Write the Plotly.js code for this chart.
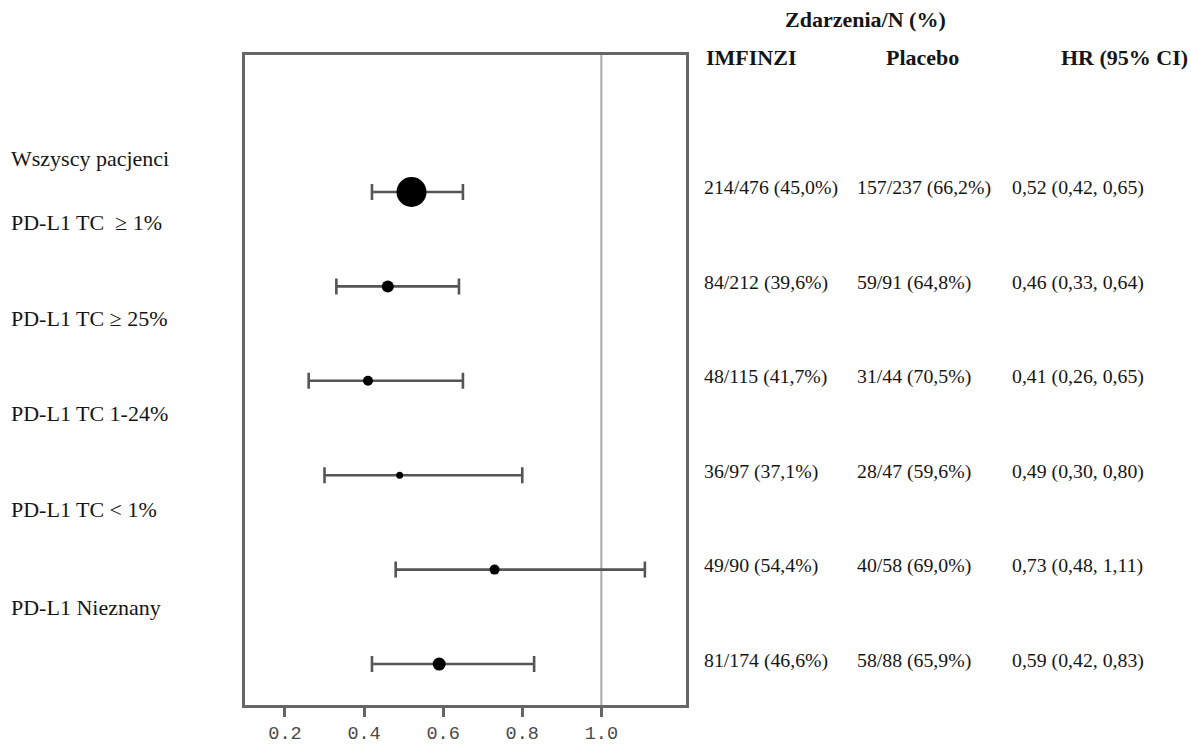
<!DOCTYPE html>
<html>
<head>
<meta charset="utf-8">
<script src="https://cdn.plot.ly/plotly-3.0.1.min.js"></script>
<style>html,body{margin:0;padding:0;background:#fff;}#chart{width:1191px;height:745px;}</style>
</head>
<body>
<div id="chart"></div>
<script>
// ---- data ----
const subgroups = ["Wszyscy pacjenci", "PD-L1 TC  \u2265 1%", "PD-L1 TC \u2265 25%", "PD-L1 TC 1-24%", "PD-L1 TC < 1%", "PD-L1 Nieznany"];
const hr = [0.52, 0.46, 0.41, 0.49, 0.73, 0.59];
const ciLow = [0.42, 0.33, 0.26, 0.30, 0.48, 0.42];
const ciHigh = [0.65, 0.64, 0.65, 0.80, 1.11, 0.83];
const imfEvents = [214, 84, 48, 36, 49, 81];
const imfN = [476, 212, 115, 97, 90, 174];
const imfPct = ["45,0", "39,6", "41,7", "37,1", "54,4", "46,6"];
const plaEvents = [157, 59, 31, 28, 40, 58];
const plaN = [237, 91, 44, 47, 58, 88];
const plaPct = ["66,2", "64,8", "70,5", "59,6", "69,0", "65,9"];
const tickVals = [0.2, 0.4, 0.6, 0.8, 1.0];
const tickText = ["0.2", "0.4", "0.6", "0.8", "1.0"];

// ---- style ----
const markerSizes = [30, 12, 10, 7, 10, 13];
const W = 1191, H = 745;
const M = {l: 245, r: 505, t: 55, b: 40};
const plotW = W - M.l - M.r, plotH = H - M.t - M.b;
const px2paperX = px => (px - M.l) / plotW;
const px2paperY = py => (H - M.b - py) / plotH;
const leftLabelPx = [158, 222, 318, 413, 510, 607];
const serif = "Liberation Serif, Times New Roman, serif";
const txtColor = '#151515';

const rows = subgroups.map((_, i) => i);
const fmt = v => v.toFixed(2).replace('.', ',');

const trace = {
  type: 'scatter', mode: 'markers',
  x: hr, y: rows,
  marker: {color: '#000', size: markerSizes, opacity: 1, line: {width: 0}},
  error_x: {
    type: 'data', symmetric: false,
    array: hr.map((v, i) => ciHigh[i] - v),
    arrayminus: hr.map((v, i) => v - ciLow[i]),
    color: '#555', thickness: 2.6, width: 8
  },
  hoverinfo: 'skip', showlegend: false
};

const annotations = [];
const colFont = {family: serif, size: 19.8, color: txtColor};
subgroups.forEach((s, i) => {
  annotations.push({xref: 'paper', yref: 'paper', x: px2paperX(9), y: px2paperY(leftLabelPx[i]),
    xanchor: 'left', yanchor: 'middle', text: s, showarrow: false,
    font: {family: serif, size: 22, color: txtColor}});
  annotations.push({xref: 'paper', yref: 'y', x: px2paperX(702), y: i, yshift: 4,
    xanchor: 'left', yanchor: 'middle', text: imfEvents[i] + '/' + imfN[i] + ' (' + imfPct[i] + '%)', showarrow: false,
    font: colFont});
  annotations.push({xref: 'paper', yref: 'y', x: px2paperX(855), y: i, yshift: 4,
    xanchor: 'left', yanchor: 'middle', text: plaEvents[i] + '/' + plaN[i] + ' (' + plaPct[i] + '%)', showarrow: false,
    font: colFont});
  annotations.push({xref: 'paper', yref: 'y', x: px2paperX(1010), y: i, yshift: 4,
    xanchor: 'left', yanchor: 'middle', text: fmt(hr[i]) + ' (' + fmt(ciLow[i]) + ', ' + fmt(ciHigh[i]) + ')', showarrow: false,
    font: colFont});
});
const headFont = {family: serif, size: 22, color: txtColor};
annotations.push({xref: 'paper', yref: 'paper', x: px2paperX(865), y: px2paperY(20), xanchor: 'center', yanchor: 'middle',
  text: '<b>Zdarzenia/N (%)</b>', showarrow: false, font: headFont});
annotations.push({xref: 'paper', yref: 'paper', x: px2paperX(704), y: px2paperY(57), xanchor: 'left', yanchor: 'middle',
  text: '<b>IMFINZI</b>', showarrow: false, font: headFont});
annotations.push({xref: 'paper', yref: 'paper', x: px2paperX(922), y: px2paperY(57), xanchor: 'center', yanchor: 'middle',
  text: '<b>Placebo</b>', showarrow: false, font: headFont});
annotations.push({xref: 'paper', yref: 'paper', x: px2paperX(1059), y: px2paperY(57), xanchor: 'left', yanchor: 'middle',
  text: '<b>HR (95% CI)</b>', showarrow: false, font: headFont});

const layout = {
  width: W, height: H,
  margin: M,
  paper_bgcolor: '#fff', plot_bgcolor: '#fff',
  xaxis: {
    range: [0.099, 1.214], tickvals: tickVals, ticktext: tickText,
    ticks: 'outside', ticklen: 9, tickwidth: 3, tickcolor: '#666',
    tickfont: {family: 'Liberation Mono, Courier New, monospace', size: 18.5, color: '#4a4a4a'},
    showgrid: false, zeroline: false,
    showline: true, mirror: true, linecolor: '#666', linewidth: 3
  },
  yaxis: {
    range: [5.434, -1.451], showticklabels: false, ticks: '',
    showgrid: false, zeroline: false,
    showline: true, mirror: true, linecolor: '#666', linewidth: 3
  },
  shapes: [{type: 'line', xref: 'x', yref: 'paper', x0: 1.0, x1: 1.0, y0: 0, y1: 1,
    line: {color: '#aaa', width: 2}, layer: 'below'}],
  annotations: annotations
};

Plotly.newPlot('chart', [trace], layout, {displayModeBar: false, staticPlot: true});
</script>
</body>
</html>
